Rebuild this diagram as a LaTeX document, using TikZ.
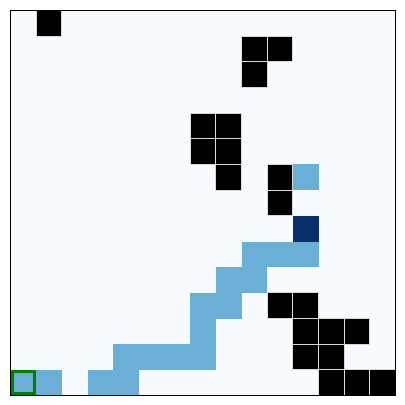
\documentclass[tikz,border=0pt]{standalone}
\begin{document}
\begin{tikzpicture}[x=0.5pt,y=-0.5pt]
\definecolor{bgc}{HTML}{F7FBFF}
\definecolor{pathc}{HTML}{6BAED6}
\definecolor{goalc}{HTML}{08306B}
\definecolor{startc}{HTML}{008000}
\tikzset{
  wallcell/.style={fill=black,draw=gray!30,line width=0.4pt},
  pathcell/.style={fill=pathc,draw=none},
  goalcell/.style={fill=goalc,draw=none},
  startbox/.style={draw=startc,line width=1.7pt},
  frame/.style={draw=black,line width=0.55pt}
}
\def\cs{25.6667}
\useasboundingbox (0,0) rectangle (405,405);
\fill[bgc] (10.5,10.5) rectangle (395.5,395.5);
% path cells (row,col)
\foreach \r/\c in {14/0,14/1,14/3,14/4,13/4,13/5,13/6,13/7,12/7,11/7,11/8,10/8,10/9,9/9,9/10,9/11,6/11}{
  \path[pathcell] ({10.5+\cs*\c},{10.5+\cs*\r}) rectangle ++(\cs,\cs);
}
% goal
\path[goalcell] ({10.5+\cs*11},{10.5+\cs*8}) rectangle ++(\cs,\cs);
% walls
\foreach \r/\c in {0/1,1/9,1/10,2/9,4/7,4/8,5/7,5/8,6/8,6/10,7/10,11/10,11/11,12/11,12/12,12/13,13/11,13/12,14/12,14/13,14/14}{
  \path[wallcell] ({10.5+\cs*\c},{10.5+\cs*\r}) rectangle ++(\cs,\cs);
}
% start marker
\draw[startbox] ({10.5+1.7},{10.5+\cs*14+1.7}) rectangle ({10.5+\cs-1.7},{10.5+\cs*15-1.7});
\draw[frame] (10.5,10.5) rectangle (395.5,395.5);
\end{tikzpicture}
\end{document}
